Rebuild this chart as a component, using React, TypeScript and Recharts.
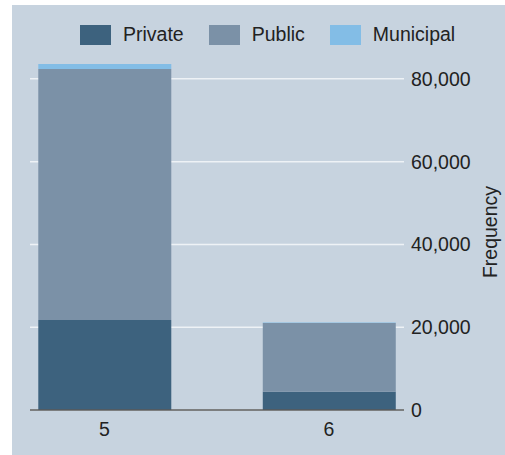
import { BarChart, Bar, XAxis, YAxis, CartesianGrid, Label } from "recharts";

const categories = [5, 6];
const privateValues = [21750, 4400];
const publicValues = [60650, 16600];
const municipalValues = [1200, 150];
const yTicks = [0, 20000, 40000, 60000, 80000];

const series = [
  { key: "private", name: "Private", color: "#3d627e" },
  { key: "public", name: "Public", color: "#7b91a7" },
  { key: "municipal", name: "Municipal", color: "#83bde6" },
];

const data = categories.map((c, i) => ({
  cat: c,
  private: privateValues[i],
  public: publicValues[i],
  municipal: municipalValues[i],
}));

const font = "'Liberation Sans', Arial, sans-serif";

function LegendBox() {
  return (
    <div
      style={{
        position: "absolute",
        left: 68,
        top: 18,
        display: "flex",
        alignItems: "center",
        fontFamily: font,
        fontSize: 19.5,
        color: "#222",
        zIndex: 2,
      }}
    >
      {series.map((s, i) => (
        <div key={s.key} style={{ display: "flex", alignItems: "center", marginLeft: i === 0 ? 0 : 25 }}>
          <div style={{ width: 31, height: 20, background: s.color, marginRight: 12 }} />
          <span>{s.name}</span>
        </div>
      ))}
    </div>
  );
}

export default function App() {
  return (
    <div style={{ position: "absolute", left: 0, top: 0, width: 505, height: 455, background: "#fff" }}>
      <div style={{ position: "absolute", left: 12, top: 5, width: 493, height: 450, background: "#c7d3df" }}>
        <LegendBox />
        <BarChart
          width={493}
          height={450}
          data={data}
          margin={{ top: 49, right: 0, bottom: 0, left: 18 }}
        >
          <CartesianGrid horizontal vertical={false} syncWithTicks stroke="#eef2f6" strokeWidth={1.5} />
          <XAxis
            dataKey="cat"
            type="number"
            domain={[4.668, 6.334]}
            ticks={categories}
            allowDataOverflow
            height={45}
            axisLine={{ stroke: "#5a5a5a", strokeWidth: 1.5 }}
            tickLine={false}
            tickMargin={6}
            tick={{ fontSize: 19.5, fill: "#222", fontFamily: font }}
          />
          <YAxis
            orientation="right"
            width={101}
            domain={[0, 86000]}
            ticks={yTicks}
            axisLine={false}
            tickLine={false}
            tickSize={5}
            tickMargin={2}
            tickFormatter={(v: number) => v.toLocaleString("en-US")}
            tick={{ fontSize: 19.5, fill: "#222", fontFamily: font, textAnchor: "start" }}
          >
            <Label
              content={({ viewBox }: any) => {
                const x = viewBox.x + 86;
                const y = viewBox.y + viewBox.height / 2;
                return (
                  <text
                    x={x}
                    y={y}
                    transform={`rotate(-90, ${x}, ${y})`}
                    textAnchor="middle"
                    dominantBaseline="central"
                    fontSize={19.5}
                    fill="#222"
                    fontFamily={font}
                  >
                    Frequency
                  </text>
                );
              }}
            />
          </YAxis>
          {series.map((s) => (
            <Bar
              key={s.key}
              dataKey={s.key}
              name={s.name}
              stackId="a"
              fill={s.color}
              barSize={133}
              isAnimationActive={false}
            />
          ))}
        </BarChart>
      </div>
    </div>
  );
}
